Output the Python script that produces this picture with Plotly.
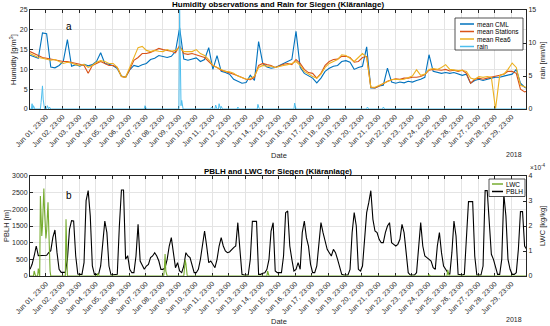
import numpy as np
import pandas as pd
import plotly.graph_objects as go

# ---------------- data ----------------
start = pd.Timestamp("2018-06-01 00:00")
end = pd.Timestamp("2018-06-30 20:00")

# humidity [g/m^3], 6-hourly from Jun 01 00:00
cml = [
    13.6, 13.2, 12.8, 19.2, 19.0, 10.6, 10.4, 11.0, 12.0, 17.5,
    10.8, 11.2, 10.8, 11.3, 10.9, 11.2, 12.0, 14.2, 11.5, 11.3,
    10.9, 10.2, 8.3, 8.0, 9.9, 11.0, 10.7, 11.2, 11.5, 12.5,
    12.8, 13.5, 13.2, 13.0, 13.3, 14.5, 20.5, 12.6, 12.3, 12.6,
    12.9, 12.0, 12.5, 15.5, 10.0, 13.5, 9.5, 9.2, 8.8, 7.5,
    7.0, 6.5, 6.7, 8.5, 7.2, 17.0, 11.5, 10.6, 10.3, 10.5,
    11.0, 11.5, 11.8, 12.5, 19.6, 10.5, 9.0, 8.3, 7.8, 6.6,
    7.8, 9.5, 10.3, 10.8, 11.0, 12.0, 12.2, 11.8, 10.0, 10.5,
    10.8, 15.7, 5.3, 5.3, 5.8, 6.0, 10.3, 6.8, 6.5, 6.8,
    6.6, 7.0, 6.8, 7.2, 7.5, 8.0, 13.7, 9.5, 9.3, 9.0,
    9.2, 9.0, 9.2, 8.8, 8.5, 8.8, 6.5, 7.2, 7.5, 7.2,
    7.6, 7.8, 8.0, 8.0, 8.3, 8.5, 8.8, 10.0, 6.5, 5.5, 5.0]

stations = [
    14.5, 14.0, 13.4, 13.0, 12.8, 12.6, 12.5, 12.3, 12.0, 12.0,
    11.8, 11.5, 11.3, 11.0, 9.0, 11.0, 11.5, 12.0, 11.5, 11.0,
    11.0, 10.5, 8.2, 8.0, 10.0, 12.3, 13.0, 14.0, 14.0, 14.3,
    14.8, 15.3, 15.0, 14.8, 14.6, 14.2, 16.0, 14.0, 13.8, 14.0,
    13.7, 13.3, 13.0, 12.0, 11.0, 10.5, 9.8, 9.5, 9.2, 8.8,
    8.4, 8.0, 7.5, 7.4, 8.0, 11.0, 11.5, 11.2, 11.0, 10.5,
    11.0, 11.3, 11.5, 11.2, 12.5, 11.5, 10.0, 9.2, 9.0, 7.8,
    9.0, 11.0, 12.0, 12.5, 12.6, 13.3, 13.3, 13.0, 11.8, 12.0,
    13.0, 13.3, 5.5, 5.3, 5.8, 6.5, 7.0, 7.4, 7.6, 7.5,
    7.8, 7.8, 8.0, 8.0, 8.2, 8.7, 9.8, 10.0, 9.9, 9.8,
    10.0, 9.6, 9.8, 9.5, 9.8, 9.0, 6.5, 7.5, 7.8, 7.5,
    7.8, 8.0, 8.2, 8.5, 8.8, 9.5, 9.5, 9.0, 5.0, 4.3, 4.8]

rea6 = [
    14.0, 13.5, 13.0, 12.8, 12.5, 12.3, 12.5, 12.0, 11.5, 11.8,
    11.6, 11.2, 11.0, 11.3, 10.5, 11.0, 11.8, 12.2, 12.0, 11.5,
    11.5, 10.5, 8.2, 8.0, 10.5, 13.0, 15.5, 15.8, 14.8, 14.5,
    14.8, 14.6, 14.5, 15.0, 14.6, 14.8, 15.5, 14.5, 14.5, 14.5,
    15.0, 14.0, 13.5, 12.5, 11.0, 10.5, 10.0, 9.5, 9.4, 9.0,
    8.3, 7.8, 7.5, 7.7, 8.3, 10.5, 11.0, 10.8, 10.8, 10.5,
    10.8, 11.0, 11.2, 11.5, 12.0, 11.0, 9.5, 8.8, 8.2, 7.8,
    8.8, 10.5, 11.5, 12.0, 12.5, 13.7, 13.5, 12.8, 12.0, 13.0,
    14.0, 13.0, 5.5, 5.5, 6.0, 6.5, 7.0, 7.4, 7.5, 7.4,
    7.5, 8.0, 8.3, 9.9, 8.5, 8.8, 10.0, 10.2, 10.0, 10.5,
    11.2, 10.0, 9.8, 9.7, 9.8, 9.5, 7.8, 7.5, 8.2, 8.0,
    8.2, 8.0, 0.0, 8.5, 8.8, 10.0, 11.6, 10.5, 6.0, 5.5, 5.2]

# rain [mm/h]: hour index since Jun 01 00:00 and value (zero elsewhere)
rain_hours = [3, 5, 16, 17, 18, 19, 20, 25, 28, 166, 216, 217, 218, 219, 220,
              262, 268, 273, 276, 300, 329, 382, 487, 510]
rain_values = [0.8, 0.5, 1.0, 2.0, 3.5, 1.5, 0.5, 0.5, 0.3, 0.5, 15.0, 1.5, 0.5, 1.3, 0.3,
               0.3, 0.6, 0.8, 0.4, 0.3, 0.7, 0.9, 0.3, 0.3]

# PBLH [m], 3-hourly from Jun 01 00:00
pblh = [
    200, 350, 600, 900, 610, 610, 610, 610,
    620, 700, 760, 1160, 1380, 700, 200, 110,
    110, 110, 500, 1400, 1660, 1650, 600, 60,
    50, 50, 400, 2260, 2560, 1800, 300, 50,
    50, 50, 300, 1100, 1650, 1300, 300, 30,
    30, 30, 50, 1500, 2580, 2580, 500, 610,
    200, 100, 100, 600, 1550, 450, 300, 200,
    300, 350, 550, 600, 700, 600, 450, 200,
    200, 250, 500, 900, 1150, 600, 250, 400,
    150, 100, 300, 700, 600, 550, 300, 100,
    100, 200, 500, 1000, 1350, 900, 400, 450,
    350, 250, 500, 900, 1150, 900, 750, 700,
    720, 800, 850, 900, 1600, 800, 50, 30,
    30, 30, 500, 1640, 1640, 1640, 50, 50,
    80, 100, 200, 500, 1350, 1600, 150, 100,
    100, 100, 600, 1900, 1950, 900, 500, 150,
    200, 400, 200, 1300, 1650, 1150, 900, 350,
    100, 100, 300, 1000, 1600, 1300, 1050, 800,
    700, 600, 800, 700, 500, 300, 50, 30,
    30, 30, 200, 1300, 1900, 1500, 200, 150,
    300, 1000, 1900, 2200, 2560, 1700, 1350, 1300,
    1100, 1000, 1000, 1300, 1500, 1600, 1000, 950,
    900, 950, 1100, 1550, 1300, 700, 100, 30,
    30, 30, 100, 1000, 1600, 900, 600, 550,
    500, 450, 250, 200, 900, 1300, 700, 300,
    200, 100, 50, 700, 1650, 1200, 50, 30,
    30, 50, 1000, 2230, 2230, 2230, 600, 30,
    30, 30, 300, 2560, 2560, 1500, 650, 500,
    300, 50, 50, 500, 2450, 1800, 500, 200,
    50, 50, 100, 800, 1930, 1930, 900, 800]

# LWC [1e-4 kg/kg]: hour index since Jun 01 00:00 and value (zero elsewhere)
lwc_hours = [6, 12, 15, 16, 17, 18, 19, 20, 21, 22, 23, 24, 25, 26, 27, 28, 29,
             52, 53, 98, 194, 195, 196, 223, 224, 225, 226, 343, 576, 603]
lwc_values = [0.2, 0.3, 3.2, 2.4, 1.6, 2.0, 2.8, 3.5, 2.6, 1.6, 1.5, 1.8, 2.2, 2.95, 2.0, 0.8, 0.2,
              2.27, 0.5, 0.1, 0.3, 0.88, 0.2, 0.3, 0.65, 0.5, 0.1, 0.2, 0.05, 0.25]

tick_days = list(range(1, 30))
tick_labels = [f"Jun {d:02d}, 23:00" for d in tick_days]

# ---------------- build series ----------------
hum_times = pd.date_range(start, periods=len(cml), freq="6h")
pblh_times = pd.date_range(start, periods=len(pblh), freq="3h")
hours = pd.date_range(start, end, freq="1h")
rain = np.zeros(len(hours))
rain[rain_hours] = rain_values
lwc = np.zeros(len(hours))
lwc[lwc_hours] = np.array(lwc_values) * 1e-4
tick_vals = [pd.Timestamp(2018, 6, d, 23) for d in tick_days]

C_CML, C_ST, C_REA, C_RAIN = "#0072BD", "#D95319", "#EDB120", "#4DBEEE"
C_LWC, C_PBLH = "#77AC30", "#000000"
AX = "#262626"
FONT = "Liberation Sans, Arial, Helvetica, sans-serif"

fig = go.Figure()
fig.add_trace(go.Scatter(x=hours, y=rain, xaxis="x", yaxis="y2", mode="lines",
                         line=dict(color=C_RAIN, width=1), name="rain", showlegend=False))
fig.add_trace(go.Scatter(x=hum_times, y=cml, xaxis="x", yaxis="y", mode="lines",
                         line=dict(color=C_CML, width=1.1), name="mean CML", showlegend=False))
fig.add_trace(go.Scatter(x=hum_times, y=stations, xaxis="x", yaxis="y", mode="lines",
                         line=dict(color=C_ST, width=1.1), name="mean Stations", showlegend=False))
fig.add_trace(go.Scatter(x=hum_times, y=rea6, xaxis="x", yaxis="y", mode="lines",
                         line=dict(color=C_REA, width=1.1), name="mean Rea6", showlegend=False))
fig.add_trace(go.Scatter(x=pblh_times, y=pblh, xaxis="x2", yaxis="y3", mode="lines",
                         line=dict(color=C_PBLH, width=1.1), name="PBLH", showlegend=False))
fig.add_trace(go.Scatter(x=hours, y=lwc, xaxis="x2", yaxis="y4", mode="lines",
                         line=dict(color=C_LWC, width=1.1), name="LWC", showlegend=False))

W, H = 550, 326
ML, MR, MT, MB = 30, 24, 10, 50


def px(x):
    return (x - ML) / (W - ML - MR)


def py(y):
    return (H - MB - y) / (H - MT - MB)


xcommon = dict(type="date", range=[start, end], tickvals=tick_vals, ticktext=tick_labels,
               tickangle=-45, tickfont=dict(size=7, color=AX, family=FONT),
               showgrid=True, gridcolor="#e4e4e4", gridwidth=1, showline=True,
               linecolor=AX, linewidth=1, mirror="ticks", ticks="inside", ticklen=3,
               tickcolor=AX, zeroline=False, automargin=False, layer="below traces")
ycommon = dict(tickfont=dict(size=7, color=AX, family=FONT), showline=True, linecolor=AX,
               linewidth=1, ticks="inside", ticklen=3, tickcolor=AX, zeroline=False,
               automargin=False, layer="below traces")

fig.update_layout(
    width=W, height=H, margin=dict(l=ML, r=MR, t=MT, b=MB),
    paper_bgcolor="white", plot_bgcolor="white", showlegend=False,
    font=dict(family=FONT, color=AX),
    xaxis=dict(domain=[0, 1], anchor="y", **xcommon),
    yaxis=dict(domain=[py(109), 1], anchor="x", range=[0, 25], dtick=5,
               showgrid=True, gridcolor="#e4e4e4", **ycommon),
    yaxis2=dict(overlaying="y", anchor="x", side="right", range=[0, 15], dtick=5,
                showgrid=False, **ycommon),
    xaxis2=dict(domain=[0, 1], anchor="y3", **xcommon),
    yaxis3=dict(domain=[0, py(176)], anchor="x2", range=[0, 3000], dtick=500,
                showgrid=True, gridcolor="#e4e4e4", **ycommon),
    yaxis4=dict(overlaying="y3", anchor="x2", side="right", range=[0, 4e-4],
                tickvals=[0, 1e-4, 2e-4, 3e-4, 4e-4], ticktext=["0", "1", "2", "3", "4"],
                showgrid=False, **ycommon),
)

ann = []


def text(x, y, s, size=7, angle=0, bold=False, xanchor="center", color=AX):
    ann.append(dict(x=px(x), y=py(y), xref="paper", yref="paper", text=f"<b>{s}</b>" if bold else s,
                    showarrow=False, textangle=angle, xanchor=xanchor, yanchor="middle",
                    font=dict(size=size, color=color, family=FONT)))


text(278, 5, "Humidity observations and Rain for Siegen (Kläranlage)", size=8, bold=True, color="black")
text(278, 171, "PBLH and LWC for Siegen (Kläranlage)", size=8, bold=True, color="black")
text(69, 26, "a", size=10, color="black")
text(69, 195, "b", size=10, color="black")
text(279, 155, "Date", size=7.5)
text(279, 321, "Date", size=7.5)
text(514, 154, "2018", size=7)
text(514, 320, "2018", size=7)
text(13, 60, "Humidity [g/m<sup>3</sup>]", size=7.5, angle=-90)
text(6, 226, "PBLH [m]", size=7.5, angle=-90)
text(542, 60, "rain [mm/h]", size=7.5, angle=-90)
text(542, 226, "LWC [kg/kg]", size=7.5, angle=-90)
text(538, 167, "×10<sup>-4</sup>", size=6.5)

shapes = []


def legend_box(x0, x1, y0, y1, entries, lx0, lx1, tx):
    shapes.append(dict(type="rect", xref="paper", yref="paper", x0=px(x0), x1=px(x1),
                       y0=py(y1), y1=py(y0), line=dict(color=AX, width=0.8),
                       fillcolor="white", layer="above"))
    for (label, color, yy) in entries:
        shapes.append(dict(type="line", xref="paper", yref="paper", x0=px(lx0), x1=px(lx1),
                           y0=py(yy), y1=py(yy), line=dict(color=color, width=1.5), layer="above"))
        text(tx, yy, label, size=6.5, xanchor="left", color="black")


legend_box(455, 523, 18, 50,
           [("mean CML", C_CML, 24), ("mean Stations", C_ST, 31.5),
            ("mean Rea6", C_REA, 39), ("rain", C_RAIN, 46.5)], 460, 474, 475)
legend_box(489, 525, 179, 196.5,
           [("LWC", C_LWC, 184), ("PBLH", C_PBLH, 191.5)], 492, 503, 504)

fig.update_layout(annotations=ann, shapes=shapes)
fig.write_html("out.html", config={"displayModeBar": False},
               post_script="document.body.style.margin='0px';document.body.style.padding='0px';")
